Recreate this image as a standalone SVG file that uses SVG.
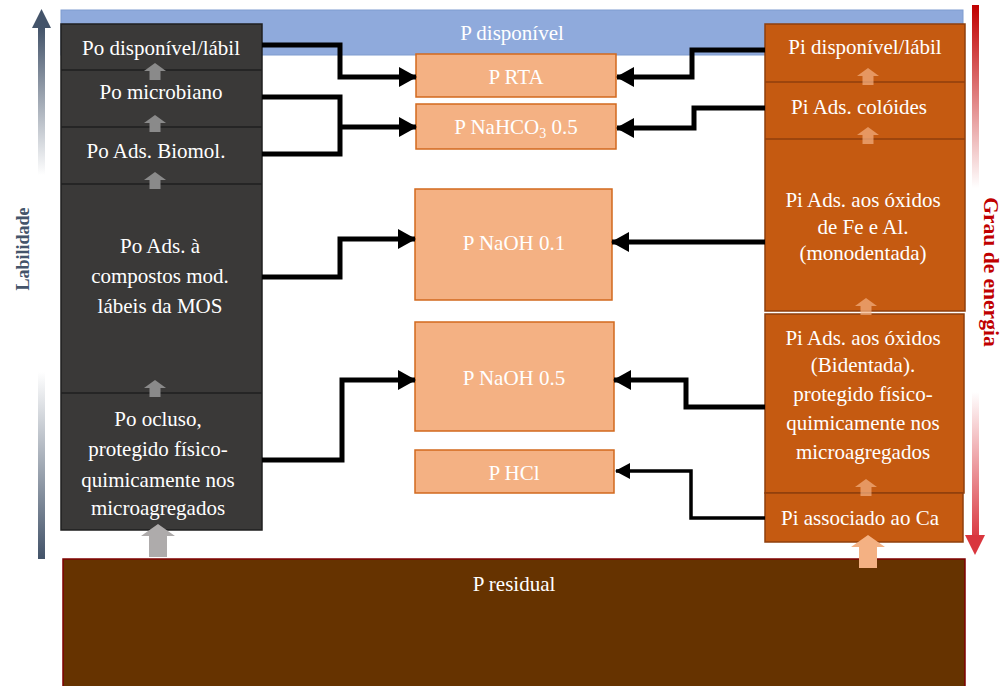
<svg xmlns="http://www.w3.org/2000/svg" width="1005" height="686" viewBox="0 0 1005 686">
<style>
.t{font-family:"Liberation Serif","Tinos","Nimbus Roman","DejaVu Serif","Noto Serif",serif;font-size:21px;fill:#ffffff;text-anchor:middle}
.lab{font-family:"Liberation Serif","Tinos","DejaVu Serif",serif;font-weight:bold;text-anchor:middle}
.left{fill:#3a3938;stroke:#1f1f1f;stroke-width:1.5}
.sep{stroke:#1f1f1f;stroke-width:1.5}
.right{fill:#c55a11;stroke:#8f3f0d;stroke-width:1.5}
.rsep{stroke:#8f3f0d;stroke-width:1.5}
.mid{fill:#f4b183;stroke:#d2691e;stroke-width:1.5}
.con{fill:none;stroke:#000;stroke-width:5}
.gs{fill:#8a8a8a}
.os{fill:#f4b183;opacity:0.7}
</style>
<defs>
<marker id="ah" markerUnits="userSpaceOnUse" markerWidth="18" markerHeight="20" viewBox="0 0 18 20" refX="17" refY="10" orient="auto">
<path d="M0,0 L18,10 L0,20 Z" fill="#000"/>
</marker>
<marker id="ahs" markerUnits="userSpaceOnUse" markerWidth="15" markerHeight="16" viewBox="0 0 15 16" refX="14" refY="8" orient="auto">
<path d="M0,0 L15,8 L0,16 Z" fill="#000"/>
</marker>
<path id="up" d="M0,0 L11,8 L5.5,8 L5.5,17 L-5.5,17 L-5.5,8 L-11,8 Z"/>
<path id="upBig" d="M0,0 L17,12 L9,12 L9,33 L-9,33 L-9,12 L-17,12 Z"/>
<linearGradient id="labTop" gradientUnits="userSpaceOnUse" x1="0" y1="28" x2="0" y2="175">
<stop offset="0" stop-color="#44546a"/><stop offset="1" stop-color="#44546a" stop-opacity="0"/>
</linearGradient>
<linearGradient id="labBot" gradientUnits="userSpaceOnUse" x1="0" y1="372" x2="0" y2="558">
<stop offset="0" stop-color="#44546a" stop-opacity="0"/><stop offset="1" stop-color="#44546a"/>
</linearGradient>
<linearGradient id="enTop" gradientUnits="userSpaceOnUse" x1="0" y1="5" x2="0" y2="188">
<stop offset="0" stop-color="#c00000"/><stop offset="1" stop-color="#c00000" stop-opacity="0"/>
</linearGradient>
<linearGradient id="enBot" gradientUnits="userSpaceOnUse" x1="0" y1="392" x2="0" y2="540">
<stop offset="0" stop-color="#d9363e" stop-opacity="0"/><stop offset="1" stop-color="#d9363e"/>
</linearGradient>
</defs>

<g id="axis-labilidade">
<rect x="38" y="27" width="7" height="150" fill="url(#labTop)"/>
<path d="M41.5,9 L51,28 L32,28 Z" fill="#44546a"/>
<rect x="38" y="372" width="7" height="187" fill="url(#labBot)"/>
<text class="lab" x="29" y="249" transform="rotate(-90 29 249)" font-size="18" fill="#44546a">Labilidade</text>
</g>

<g id="axis-energia">
<rect x="972" y="5" width="7" height="183" fill="url(#enTop)"/>
<rect x="972" y="392" width="7" height="145" fill="url(#enBot)"/>
<path d="M965,535 L985,535 L975,555 Z" fill="#d9363e"/>
<text class="lab" x="984" y="272" transform="rotate(90 984 272)" font-size="21.5" fill="#c00000">Grau de energia</text>
</g>

<g id="p-disponivel">
<rect x="61" y="10" width="902" height="45" fill="#8faadc" stroke="#7f9ccf" stroke-width="1"/>
<text class="t" x="512" y="40">P disponível</text>
</g>

<g id="p-residual">
<rect x="63" y="559" width="902" height="130" fill="#663300" stroke="#7f0000" stroke-width="1.5"/>
<text class="t" x="514" y="591">P residual</text>
</g>

<g id="left-column">
<rect class="left" x="61" y="24" width="201" height="506"/>
<line class="sep" x1="61" y1="70" x2="262" y2="70"/>
<line class="sep" x1="61" y1="127" x2="262" y2="127"/>
<line class="sep" x1="61" y1="184" x2="262" y2="184"/>
<line class="sep" x1="61" y1="393" x2="262" y2="393"/>
</g>
<g id="po-disponivel"><text class="t" x="161" y="55">Po disponível/lábil</text></g>
<g id="po-microbiano"><text class="t" x="161" y="99">Po microbiano</text></g>
<g id="po-biomol"><text class="t" x="156" y="158">Po Ads. Biomol.</text></g>
<g id="po-compostos">
<text class="t" x="160" y="253">Po Ads. à</text>
<text class="t" x="160" y="283">compostos mod.</text>
<text class="t" x="160" y="313">lábeis da MOS</text>
</g>
<g id="po-ocluso">
<text class="t" x="158" y="426">Po ocluso,</text>
<text class="t" x="158" y="456">protegido físico-</text>
<text class="t" x="158" y="487">quimicamente  nos</text>
<text class="t" x="158" y="515">microagregados</text>
</g>
<g id="left-arrows">
<use href="#up" class="gs" x="155" y="63"/>
<use href="#up" class="gs" x="155" y="115"/>
<use href="#up" class="gs" x="155" y="172"/>
<use href="#up" class="gs" x="155" y="380"/>
<use href="#upBig" fill="#aeabab" x="158" y="524"/>
</g>

<g id="right-column">
<rect class="right" x="765" y="24" width="200" height="287"/>
<line class="rsep" x1="765" y1="82" x2="965" y2="82"/>
<line class="rsep" x1="765" y1="139" x2="965" y2="139"/>
<rect class="right" x="765" y="314" width="199" height="179"/>
<rect class="right" x="765" y="493" width="198" height="49"/>
</g>
<g id="pi-disponivel"><text class="t" x="865" y="54">Pi disponível/lábil</text></g>
<g id="pi-coloides"><text class="t" x="859" y="114">Pi Ads. colóides</text></g>
<g id="pi-monodentada">
<text class="t" x="863" y="207">Pi Ads. aos óxidos</text>
<text class="t" x="863" y="234">de Fe e Al.</text>
<text class="t" x="863" y="260">(monodentada)</text>
</g>
<g id="pi-bidentada">
<text class="t" x="863" y="345">Pi Ads. aos óxidos</text>
<text class="t" x="863" y="372">(Bidentada).</text>
<text class="t" x="863" y="401">protegido físico-</text>
<text class="t" x="863" y="430">quimicamente  nos</text>
<text class="t" x="863" y="459">microagregados</text>
</g>
<g id="pi-ca"><text class="t" x="860" y="525">Pi associado ao Ca</text></g>
<g id="right-arrows">
<use href="#up" class="os" x="868" y="68"/>
<use href="#up" class="os" x="868" y="127"/>
<use href="#up" class="os" x="866" y="298"/>
<use href="#up" class="os" x="866" y="479"/>
<use href="#upBig" fill="#f4b183" x="868" y="535"/>
</g>

<g id="p-rta"><rect class="mid" x="416" y="54" width="200" height="43"/><text class="t" x="516" y="84">P RTA</text></g>
<g id="p-nahco3"><rect class="mid" x="416" y="104" width="200" height="45"/><text class="t" x="516" y="134">P NaHCO<tspan font-size="14" dy="4">3</tspan><tspan dy="-4">  0.5</tspan></text></g>
<g id="p-naoh01"><rect class="mid" x="415" y="189" width="197" height="111"/><text class="t" x="514" y="250">P NaOH  0.1</text></g>
<g id="p-naoh05"><rect class="mid" x="415" y="322" width="199" height="109"/><text class="t" x="514" y="385">P NaOH  0.5</text></g>
<g id="p-hcl"><rect class="mid" x="415" y="450" width="199" height="43"/><text class="t" x="514" y="480">P HCl</text></g>

<g id="connectors">
<path class="con" d="M262,45 H340 V77 H416" marker-end="url(#ah)"/>
<path class="con" d="M262,97 H340 V154 H262"/>
<path class="con" d="M340,127 H416" marker-end="url(#ah)"/>
<path class="con" d="M262,277 H340 V239 H415" marker-end="url(#ah)"/>
<path class="con" d="M262,460 H342 V380 H415" marker-end="url(#ah)"/>
<path class="con" d="M765,50 H692 V77 H617" marker-end="url(#ah)"/>
<path class="con" d="M765,108 H694 V128 H617" marker-end="url(#ah)"/>
<path class="con" d="M765,242 H612" marker-end="url(#ah)"/>
<path class="con" d="M765,407 H686 V380 H614" marker-end="url(#ah)"/>
<path class="con" style="stroke-width:3.5" d="M765,518 H691 V471 H616" marker-end="url(#ahs)"/>
</g>
</svg>
